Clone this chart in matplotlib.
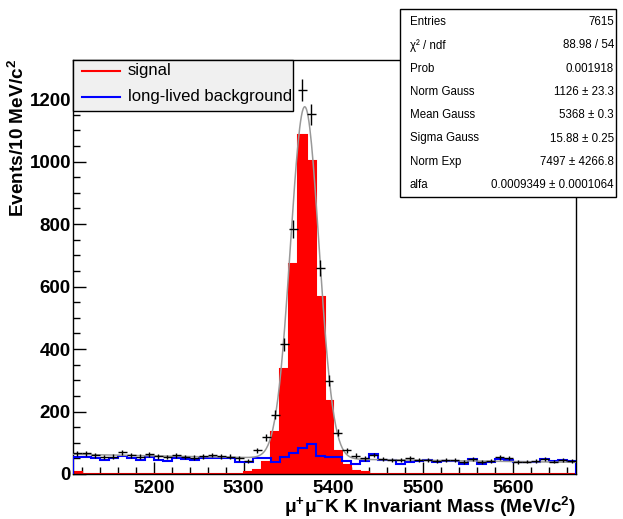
import numpy as np
import matplotlib
matplotlib.use("Agg")
import matplotlib.pyplot as plt
from matplotlib.patches import Rectangle
from matplotlib.lines import Line2D
from matplotlib.ticker import MultipleLocator

plt.rcParams["font.family"] = ["Liberation Sans", "DejaVu Sans"]
plt.rcParams["mathtext.fontset"] = "custom"
plt.rcParams["mathtext.rm"] = "Liberation Sans"
plt.rcParams["mathtext.bf"] = "Liberation Sans:bold"
plt.rcParams["mathtext.default"] = "bf"

# binning: 10 MeV bins
edges = np.arange(5110, 5671, 10)
centers = edges[:-1] + 5

data_counts = [66, 66, 60, 54, 56, 70, 60, 55, 63, 57,
               54, 60, 54, 52, 57, 61, 57, 56, 50, 42,
               76, 118, 190, 415, 784, 1228, 1151, 660, 298, 132,
               76, 58, 50, 61, 47, 45, 44, 50, 44, 45,
               42, 44, 44, 38, 48, 38, 42, 53, 51, 38,
               40, 41, 47, 40, 44, 42]

signal = [5, 0, 0, 0, 0, 0, 0, 0, 0, 0,
          0, 0, 0, 0, 0, 0, 0, 0, 0, 7,
          12, 40, 136, 335, 673, 1085, 1003, 566, 234, 74,
          30, 10, 5, 0, 0, 0, 0, 0, 0, 0,
          0, 0, 0, 0, 0, 0, 0, 0, 0, 0,
          0, 0, 0, 0, 0, 0]

long_lived = [55, 55, 51, 45, 51, 58, 51, 46, 55, 45,
              41, 51, 48, 44, 51, 52, 52, 52, 40, 37,
              50, 50, 38, 55, 68, 84, 95, 58, 55, 54,
              42, 33, 42, 63, 45, 45, 33, 39, 42, 45,
              40, 42, 43, 33, 47, 32, 37, 47, 45, 37,
              40, 40, 47, 42, 45, 42]

# fit result (gauss + exponential), from the stat box
norm_gauss = 1126
mean_gauss = 5368
sigma_gauss = 15.88
norm_exp = 7497
alfa = 0.0009349

stat_labels = ["Entries", "\u03c7\u00b2 / ndf", "Prob", "Norm Gauss", "Mean Gauss",
               "Sigma Gauss", "Norm Exp", "alfa"]
stat_values = ["7615", "88.98 / 54", "0.001918", "1126 \u00b1 23.3", "5368 \u00b1 0.3",
               "15.88 \u00b1 0.25", "7497 \u00b1 4266.8", "0.0009349 \u00b1 0.0001064"]

W, H = 623, 519


def px(x, y):
    return x / W, 1 - y / H


fig = plt.figure(figsize=(W / 100, H / 100), dpi=100)
ax = fig.add_axes([73 / W, 1 - 474 / H, (576 - 73) / W, (474 - 60) / H])

ax.stairs(signal, edges, fill=True, color="red", zorder=2)
ax.stairs(signal, edges, color="red", lw=1.5, zorder=2)
ax.stairs(long_lived, edges, color="blue", lw=1.5, zorder=3)

xf = np.linspace(5110, 5670, 600)
fit = norm_gauss * np.exp(-0.5 * ((xf - mean_gauss) / sigma_gauss) ** 2) + norm_exp * np.exp(-alfa * xf)
ax.plot(xf, fit, color="#999999", lw=1.1, zorder=4)

counts = np.array(data_counts)
ax.errorbar(centers, counts, xerr=5, yerr=np.sqrt(counts), fmt="none",
            ecolor="black", elinewidth=1, capsize=0, zorder=5)

ax.set_xlim(5110, 5670)
ax.set_ylim(0, 1325)
ax.xaxis.set_major_locator(MultipleLocator(100))
ax.xaxis.set_minor_locator(MultipleLocator(20))
ax.yaxis.set_major_locator(MultipleLocator(200))
ax.yaxis.set_minor_locator(MultipleLocator(50))
ax.tick_params(which="both", direction="in", top=False, right=False, width=1)
ax.tick_params(which="major", length=9, labelsize=13.5)
ax.tick_params(axis="y", which="major", pad=1.5)
ax.tick_params(axis="x", which="major", pad=4)
ax.tick_params(which="minor", length=5)
for lab in ax.get_xticklabels() + ax.get_yticklabels():
    lab.set_fontweight("bold")
for s in ax.spines.values():
    s.set_linewidth(1)

fig.text(*px(18, 59), "Events/10 MeV/c$^{2}$", rotation=90, ha="center", va="top",
         fontsize=13.7, fontweight="bold")
fig.text(*px(576, 507), "\u03bc$^{+}$\u03bc$^{-}$K K Invariant Mass (MeV/c$^{2}$)",
         ha="right", va="center", fontsize=13.7, fontweight="bold")

# legend box
x0, y0 = px(73, 111)
x1, y1 = px(293, 60)
fig.add_artist(Rectangle((x0, y0), x1 - x0, y1 - y0, transform=fig.transFigure,
                         facecolor="#f0f0f0", edgecolor="black", lw=1))
for yy, col, lab in [(71, "red", "signal"), (97, "blue", "long-lived background")]:
    a, b = px(82, yy)
    c, _ = px(120, yy)
    fig.add_artist(Line2D([a, c], [b, b], transform=fig.transFigure, color=col, lw=1.5))
    fig.text(*px(128, yy), lab, ha="left", va="center", fontsize=12)

# stat box
x0, y0 = px(400, 197)
x1, y1 = px(616, 9)
fig.add_artist(Rectangle((x0, y0), x1 - x0, y1 - y0, transform=fig.transFigure,
                         facecolor="white", edgecolor="black", lw=1))
for i, (lab, val) in enumerate(zip(stat_labels, stat_values)):
    yy = 22 + i * 23.3
    fig.text(*px(410, yy), lab, ha="left", va="center", fontsize=8.3)
    fig.text(*px(614, yy), val, ha="right", va="center", fontsize=8.3)

fig.savefig("out.png", dpi=100)
